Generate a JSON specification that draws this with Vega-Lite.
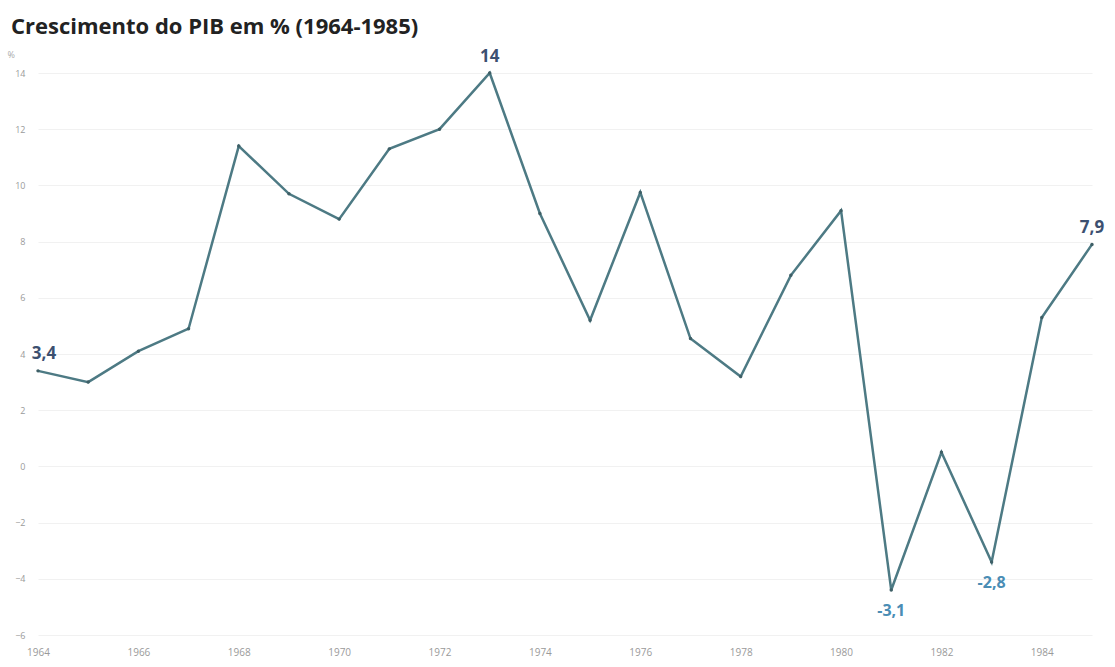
{
  "$schema": "https://vega.github.io/schema/vega-lite/v6.json",
  "autosize": "none",
  "width": 1054,
  "height": 562,
  "padding": {"left": 38, "top": 73, "right": 23, "bottom": 32},
  "background": "white",
  "title": {
    "text": "Crescimento do PIB em % (1964-1985)",
    "anchor": "start",
    "frame": "group",
    "dx": -27,
    "offset": 9,
    "font": "Open Sans",
    "fontSize": 22,
    "fontWeight": "bold",
    "color": "#222222"
  },
  "config": {
    "view": {"stroke": null},
    "axis": {"labelFont": "Open Sans", "labelColor": "#9a9a9a", "labelFontSize": 10, "domain": false, "ticks": false}
  },
  "data": {
    "values": [
      {"ano": 1964, "pib": 3.4, "rotulo": "3,4"},
      {"ano": 1965, "pib": 3.0, "rotulo": ""},
      {"ano": 1966, "pib": 4.1, "rotulo": ""},
      {"ano": 1967, "pib": 4.9, "rotulo": ""},
      {"ano": 1968, "pib": 11.4, "rotulo": ""},
      {"ano": 1969, "pib": 9.7, "rotulo": ""},
      {"ano": 1970, "pib": 8.8, "rotulo": ""},
      {"ano": 1971, "pib": 11.3, "rotulo": ""},
      {"ano": 1972, "pib": 12.0, "rotulo": ""},
      {"ano": 1973, "pib": 14.0, "rotulo": "14"},
      {"ano": 1974, "pib": 9.0, "rotulo": ""},
      {"ano": 1975, "pib": 5.2, "rotulo": ""},
      {"ano": 1976, "pib": 9.75, "rotulo": ""},
      {"ano": 1977, "pib": 4.55, "rotulo": ""},
      {"ano": 1978, "pib": 3.2, "rotulo": ""},
      {"ano": 1979, "pib": 6.8, "rotulo": ""},
      {"ano": 1980, "pib": 9.1, "rotulo": ""},
      {"ano": 1981, "pib": -4.4, "rotulo": "-3,1"},
      {"ano": 1982, "pib": 0.5, "rotulo": ""},
      {"ano": 1983, "pib": -3.4, "rotulo": "-2,8"},
      {"ano": 1984, "pib": 5.3, "rotulo": ""},
      {"ano": 1985, "pib": 7.9, "rotulo": "7,9"}
    ]
  },
  "encoding": {
    "x": {
      "field": "ano",
      "type": "quantitative",
      "scale": {"domain": [1964, 1985], "nice": false, "zero": false},
      "axis": {"title": null, "values": [1964, 1966, 1968, 1970, 1972, 1974, 1976, 1978, 1980, 1982, 1984], "format": "d", "grid": false, "labelPadding": 12, "labelFlush": false}
    },
    "y": {
      "field": "pib",
      "type": "quantitative",
      "scale": {"domain": [-6, 14], "nice": false},
      "axis": {
        "title": "%",
        "titleAngle": 0,
        "titleX": -31,
        "titleY": -14,
        "titleAlign": "left",
        "titleFont": "Open Sans",
        "titleFontSize": 9,
        "titleFontWeight": "normal",
        "titleColor": "#aaaaaa",
        "values": [-6, -4, -2, 0, 2, 4, 6, 8, 10, 12, 14],
        "labelPadding": 13,
        "labelFontSize": 9,
        "grid": true,
        "gridColor": "#f1f1f1",
        "gridWidth": 1
      }
    }
  },
  "layer": [
    {"mark": {"type": "line", "color": "#4d7a84", "strokeWidth": 2.5}},
    {"mark": {"type": "point", "filled": true, "color": "#3e5f66", "size": 12, "opacity": 1}},
    {
      "transform": [{"filter": "datum.rotulo != '' && datum.pib >= 0 && datum.ano > 1964"}],
      "mark": {"type": "text", "dy": -16, "font": "Open Sans", "fontSize": 17, "fontWeight": "bold", "color": "#3c5070"},
      "encoding": {"text": {"field": "rotulo"}}
    },
    {
      "transform": [{"filter": "datum.rotulo != '' && datum.ano == 1964"}],
      "mark": {"type": "text", "dy": -17, "dx": 6, "font": "Open Sans", "fontSize": 17, "fontWeight": "bold", "color": "#3c5070"},
      "encoding": {"text": {"field": "rotulo"}}
    },
    {
      "transform": [{"filter": "datum.rotulo != '' && datum.pib < 0"}],
      "mark": {"type": "text", "dy": 21, "font": "Open Sans", "fontSize": 16, "fontWeight": "bold", "color": "#4a8db5"},
      "encoding": {"text": {"field": "rotulo"}}
    }
  ]
}
